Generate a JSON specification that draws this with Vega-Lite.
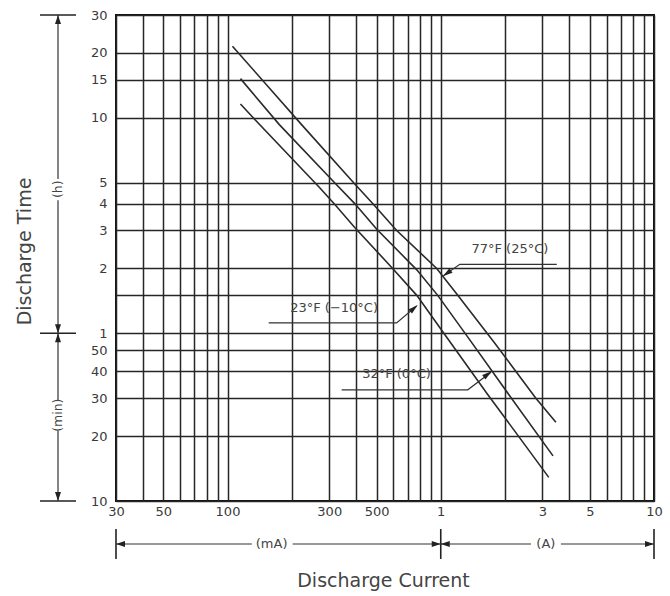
{
"$schema": "https://vega.github.io/schema/vega-lite/v6.json",
"width": 538,
"height": 486,
"autosize": {"type": "none"},
"padding": {"left": 116, "top": 15, "right": 16, "bottom": 95},
"background": "white",
"config": {"view": {"stroke": "#111", "strokeWidth": 2}, "font": "DejaVu Sans"},
"datasets": {
"curves": [
{"s": "77°F (25°C)", "I": 0.1055, "T": 21.5},
{"s": "77°F (25°C)", "I": 0.2225, "T": 9.3},
{"s": "77°F (25°C)", "I": 0.3905, "T": 5},
{"s": "77°F (25°C)", "I": 0.4795, "T": 4},
{"s": "77°F (25°C)", "I": 0.6215, "T": 3},
{"s": "77°F (25°C)", "I": 0.9577, "T": 2},
{"s": "77°F (25°C)", "I": 1.2017, "T": 1.5},
{"s": "77°F (25°C)", "I": 1.7929, "T": 0.9},
{"s": "77°F (25°C)", "I": 2.793, "T": 0.5},
{"s": "77°F (25°C)", "I": 3.467, "T": 0.387},
{"s": "32°F (0°C)", "I": 0.115, "T": 15.2},
{"s": "32°F (0°C)", "I": 0.175, "T": 9.3},
{"s": "32°F (0°C)", "I": 0.318, "T": 5},
{"s": "32°F (0°C)", "I": 0.395, "T": 4},
{"s": "32°F (0°C)", "I": 0.5, "T": 3.05},
{"s": "32°F (0°C)", "I": 0.772, "T": 1.97},
{"s": "32°F (0°C)", "I": 0.968, "T": 1.5},
{"s": "32°F (0°C)", "I": 1.35, "T": 0.95},
{"s": "32°F (0°C)", "I": 2.1, "T": 0.515},
{"s": "32°F (0°C)", "I": 3.36, "T": 0.27},
{"s": "23°F (−10°C)", "I": 0.115, "T": 11.6},
{"s": "23°F (−10°C)", "I": 0.132, "T": 10},
{"s": "23°F (−10°C)", "I": 0.27, "T": 4.75},
{"s": "23°F (−10°C)", "I": 0.318, "T": 3.97},
{"s": "23°F (−10°C)", "I": 0.395, "T": 3.1},
{"s": "23°F (−10°C)", "I": 0.589, "T": 2.02},
{"s": "23°F (−10°C)", "I": 0.772, "T": 1.5},
{"s": "23°F (−10°C)", "I": 1.02, "T": 1.02},
{"s": "23°F (−10°C)", "I": 1.66, "T": 0.52},
{"s": "23°F (−10°C)", "I": 2.3, "T": 0.336},
{"s": "23°F (−10°C)", "I": 3.21, "T": 0.2145}
],
"labels": [
{"s": "77°F (25°C)", "I": 2.11, "T": 2.45},
{"s": "23°F (−10°C)", "I": 0.316, "T": 1.31},
{"s": "32°F (0°C)", "I": 0.62, "T": 0.645}
],
"leaders": [
{"s": "77", "I": 3.5, "T": 2.09},
{"s": "77", "I": 1.228, "T": 2.09},
{"s": "77", "I": 1.03, "T": 1.85},
{"s": "23", "I": 0.156, "T": 1.118},
{"s": "23", "I": 0.621, "T": 1.118},
{"s": "23", "I": 0.77, "T": 1.34},
{"s": "32", "I": 0.343, "T": 0.547},
{"s": "32", "I": 1.339, "T": 0.547},
{"s": "32", "I": 1.72, "T": 0.66}
],
"larrows": [
{"I": 1.022, "T": 1.84, "d": "sw"},
{"I": 0.78, "T": 1.355, "d": "ne1"},
{"I": 1.735, "T": 0.667, "d": "ne2"}
],
"ybars": [{"T": 30}, {"T": 1}, {"T": 0.16666667}],
"yline": [
{"T": 30, "T2": 5.2},
{"T": 4.15, "T2": 1},
{"T": 1, "T2": 0.49},
{"T": 0.353, "T2": 0.16666667}
],
"ytext": [{"s": "(h)", "T": 4.66}, {"s": "(min)", "T": 0.417}],
"yarrows": [
{"T": 30, "d": "up"},
{"T": 1, "d": "down"},
{"T": 1, "d": "up"},
{"T": 0.16666667, "d": "down"}
],
"xbars": [{"I": 0.03}, {"I": 1}, {"I": 10}],
"xline": [
{"I": 0.03, "I2": 0.13},
{"I": 0.202, "I2": 1},
{"I": 1, "I2": 2.65},
{"I": 3.66, "I2": 10}
],
"xtext": [{"s": "(mA)", "I": 0.161}, {"s": "(A)", "I": 3.11}],
"xarrows": [
{"I": 0.03, "d": "left"},
{"I": 1, "d": "right"},
{"I": 1, "d": "left"},
{"I": 10, "d": "right"}
]
},
"encoding": {
"x": {"field": "I", "type": "quantitative",
"scale": {"type": "log", "domain": [0.03, 10], "nice": false},
"axis": {
"values": [0.03, 0.04, 0.05, 0.06, 0.07, 0.08, 0.09, 0.1, 0.2, 0.3, 0.4, 0.5, 0.6, 0.7, 0.8, 0.9, 1, 2, 3, 4, 5, 6, 7, 8, 9, 10],
"grid": true, "gridColor": "#262626", "gridWidth": 1.5, "gridOpacity": 1,
"ticks": false, "domain": false,
"labelFontSize": 13, "labelColor": "#3a3a3a", "labelPadding": 4,
"labelOverlap": false, "labelFlush": false, "labelBound": false,
"labelExpr": "indexof([0.03,0.05,0.1,0.3,0.5], datum.value) >= 0 ? format(datum.value*1000, 'd') : (indexof([1,3,5,10], datum.value) >= 0 ? format(datum.value, 'd') : '')",
"title": "Discharge Current", "titleFontSize": 19, "titleFontWeight": "normal", "titleColor": "#444",
"titleX": 267, "titleY": 79, "titleAlign": "center", "titleBaseline": "middle"
}},
"y": {"field": "T", "type": "quantitative",
"scale": {"type": "log", "domain": [0.16666667, 30], "nice": false},
"axis": {
"values": [0.16666667, 0.33333333, 0.5, 0.66666667, 0.83333333, 1, 1.5, 2, 3, 4, 5, 10, 15, 20, 30],
"grid": true, "gridColor": "#262626", "gridWidth": 1.5, "gridOpacity": 1,
"ticks": false, "domain": false,
"labelFontSize": 13, "labelColor": "#3a3a3a", "labelPadding": 9,
"labelOverlap": false, "labelFlush": false, "labelBound": false,
"labelExpr": "datum.value < 0.99 ? format(datum.value*60, '.0f') : (datum.value == 1.5 ? '' : format(datum.value, 'd'))",
"title": "Discharge Time", "titleFontSize": 19, "titleFontWeight": "normal", "titleColor": "#444",
"titleX": -92, "titleY": 236, "titleAngle": -90, "titleAlign": "center", "titleBaseline": "middle"
}}
},
"layer": [
{
"data": {"name": "curves"},
"mark": {"type": "line", "color": "#2a2a2a", "strokeWidth": 1.6},
"encoding": {"detail": {"field": "s"}}
},
{
"data": {"name": "leaders"},
"mark": {"type": "line", "color": "#333", "strokeWidth": 1.2},
"encoding": {"detail": {"field": "s"}}
},
{
"data": {"name": "labels"},
"mark": {"type": "text", "fontSize": 13, "color": "#444", "align": "center", "baseline": "middle"},
"encoding": {"text": {"field": "s"}}
},
{
"data": {"name": "larrows"},
"mark": {"type": "point", "filled": true, "size": 400, "color": "#222", "opacity": 1, "strokeWidth": 0},
"encoding": {
"shape": {"field": "d", "type": "nominal", "legend": null,
"scale": {"domain": ["up", "down", "left", "right", "sw", "ne1", "ne2"], "range": ["M0,0L-0.3,0.9L0.3,0.9Z", "M0,0L-0.3,-0.9L0.3,-0.9Z", "M0,0L0.9,-0.3L0.9,0.3Z", "M0,0L-0.9,-0.3L-0.9,0.3Z", "M0,0L0.974,-0.352L0.664,-0.795Z", "M0,0L-0.932,0.452L-0.578,0.86Z", "M0,0L-0.961,0.386L-0.636,0.817Z"]}}
}
},
{
"data": {"name": "ybars"},
"mark": {"type": "rule", "color": "#222", "strokeWidth": 1.6},
"encoding": {"x": {"value": -76}, "x2": {"value": -40}}
},
{
"data": {"name": "yline"},
"mark": {"type": "rule", "color": "#333", "strokeWidth": 1.2},
"encoding": {"y2": {"field": "T2"}, "x": {"value": -58}}
},
{
"data": {"name": "ytext"},
"mark": {"type": "text", "angle": 270, "fontSize": 12.5, "color": "#444", "align": "center", "baseline": "middle"},
"encoding": {"x": {"value": -58}, "text": {"field": "s"}}
},
{
"data": {"name": "yarrows"},
"mark": {"type": "point", "filled": true, "size": 400, "color": "#222", "opacity": 1, "strokeWidth": 0},
"encoding": {
"x": {"value": -58},
"shape": {"field": "d", "type": "nominal", "legend": null,
"scale": {"domain": ["up", "down", "left", "right", "sw", "ne1", "ne2"], "range": ["M0,0L-0.3,0.9L0.3,0.9Z", "M0,0L-0.3,-0.9L0.3,-0.9Z", "M0,0L0.9,-0.3L0.9,0.3Z", "M0,0L-0.9,-0.3L-0.9,0.3Z", "M0,0L0.974,-0.352L0.664,-0.795Z", "M0,0L-0.932,0.452L-0.578,0.86Z", "M0,0L-0.961,0.386L-0.636,0.817Z"]}}
}
},
{
"data": {"name": "xbars"},
"mark": {"type": "rule", "color": "#222", "strokeWidth": 1.6},
"encoding": {"y": {"value": 514}, "y2": {"value": 544}}
},
{
"data": {"name": "xline"},
"mark": {"type": "rule", "color": "#333", "strokeWidth": 1.2},
"encoding": {"x2": {"field": "I2"}, "y": {"value": 529}}
},
{
"data": {"name": "xtext"},
"mark": {"type": "text", "fontSize": 13, "color": "#444", "align": "center", "baseline": "middle"},
"encoding": {"y": {"value": 529}, "text": {"field": "s"}}
},
{
"data": {"name": "xarrows"},
"mark": {"type": "point", "filled": true, "size": 400, "color": "#222", "opacity": 1, "strokeWidth": 0},
"encoding": {
"y": {"value": 529},
"shape": {"field": "d", "type": "nominal", "legend": null,
"scale": {"domain": ["up", "down", "left", "right", "sw", "ne1", "ne2"], "range": ["M0,0L-0.3,0.9L0.3,0.9Z", "M0,0L-0.3,-0.9L0.3,-0.9Z", "M0,0L0.9,-0.3L0.9,0.3Z", "M0,0L-0.9,-0.3L-0.9,0.3Z", "M0,0L0.974,-0.352L0.664,-0.795Z", "M0,0L-0.932,0.452L-0.578,0.86Z", "M0,0L-0.961,0.386L-0.636,0.817Z"]}}
}
}
]
}
